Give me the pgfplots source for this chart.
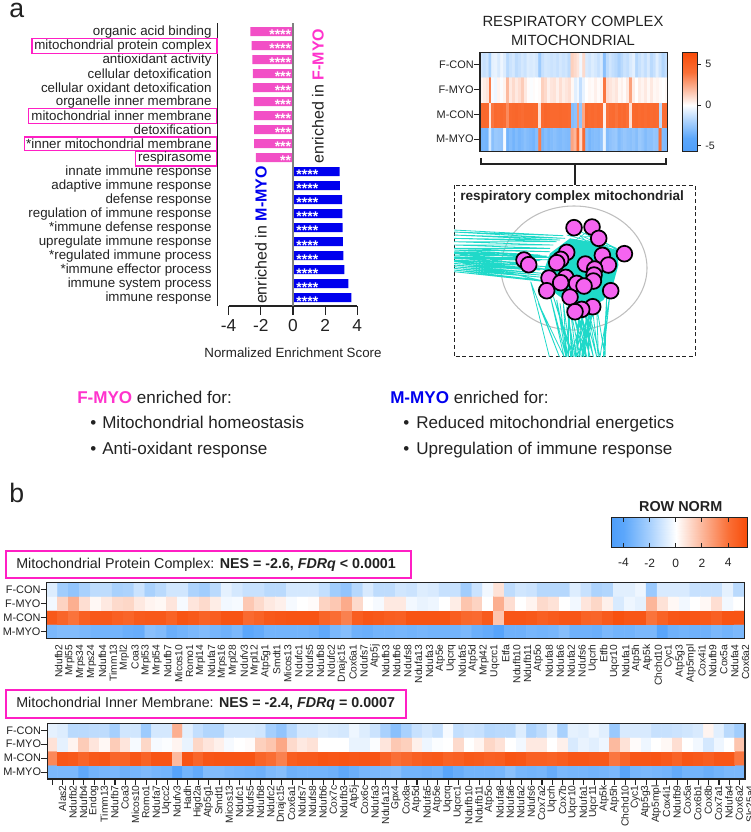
\documentclass[border=0pt]{standalone}
\usepackage{fontspec}
\setmainfont{Liberation Sans}
\usepackage{pgfplots}
\usepackage{pgfplotstable}
\pgfplotsset{compat=1.18}

\definecolor{boxpink}{HTML}{FF1FC4}
\definecolor{txtpink}{HTML}{FF33CC}
\definecolor{barpink}{HTML}{F24FC6}
\definecolor{barblue}{HTML}{0000EE}
\definecolor{edge}{HTML}{1FD9C9}
\definecolor{nodepink}{HTML}{F564F0}
\definecolor{ink}{HTML}{222222}

\newcommand{\fs}[1]{\fontsize{#1}{#1}\selectfont}

\pgfplotsset{
  colormap={rowb}{rgb255(0cm)=(78,158,250); rgb255(0.9cm)=(92,167,251); rgb255(2.9cm)=(169,209,253); rgb255(4.9cm)=(255,255,255); rgb255(6.9cm)=(252,182,154); rgb255(8.9cm)=(250,111,54); rgb255(10.4cm)=(247,74,7)},
  colormap={rowa}{rgb255(0cm)=(78,158,250); rgb255(1.7cm)=(92,167,251); rgb255(3.7cm)=(169,209,253); rgb255(5.7cm)=(255,255,255); rgb255(7.7cm)=(252,182,154); rgb255(9.7cm)=(250,111,54); rgb255(12.17cm)=(247,74,7)},
  heat/.style={
    scale only axis, anchor=north west,
    ymin=-0.5, ymax=3.5,
    axis line style={line width=0.95pt, draw=ink},
    axis on top,
    ytick={0,1,2,3}, yticklabels={M-MYO,M-CON,F-MYO,F-CON},
    ytick pos=left, xtick pos=bottom, tick align=outside,
    tick style={draw=ink, line width=0.8pt},
    major tick length=4.5pt,
    yticklabel style={font=\fs{8.2}, text=ink, inner sep=0pt},
    ylabel style={font=\fs{8}},
    tick label style={text=ink},
  },
  gene/.style={
    xticklabel style={rotate=90, anchor=east, font=\fs{7.7}, text=ink, inner sep=0pt},
  },
}

% heat map values, one list per row, bottom row first
\pgfplotstableread[row sep=\\]{v\\
-3.4\\-3.3\\-3.4\\-1.0\\-2.8\\-2.4\\-2.5\\-2.6\\-0.2\\-3.4\\-3.0\\-3.4\\-3.0\\-3.3\\-3.1\\-2.8\\-3.0\\-3.2\\-3.4\\-2.9\\3.6\\-3.3\\-2.9\\-3.2\\-3.0\\-2.8\\-3.0\\-3.1\\-2.9\\-3.0\\-3.1\\2.5\\2.0\\4.2\\1.0\\4.2\\-2.8\\-3.3\\-3.0\\-2.9\\-3.0\\-2.7\\-0.5\\-3.0\\-2.7\\-2.5\\-2.4\\-3.0\\-2.7\\-2.5\\-2.7\\-2.8\\-2.6\\-2.9\\-2.4\\-2.6\\-3.0\\-2.7\\-2.8\\-2.5\\-2.6\\4.0\\-3.0\\-3.1\\
4.4\\4.5\\4.4\\0.7\\3.8\\4.4\\4.3\\4.4\\4.2\\3.2\\4.4\\4.5\\4.6\\4.4\\4.2\\4.5\\4.5\\4.6\\4.5\\4.5\\0.9\\4.3\\4.6\\4.5\\4.4\\4.4\\4.4\\4.5\\4.4\\4.4\\4.3\\-2.9\\-2.7\\2.8\\-2.6\\2.4\\4.5\\4.3\\4.4\\4.2\\4.4\\4.2\\0.4\\3.9\\4.2\\4.3\\3.9\\4.4\\4.2\\4.4\\4.0\\0.9\\4.4\\4.5\\4.3\\4.4\\4.2\\4.4\\4.3\\4.4\\4.3\\-1.6\\4.1\\4.2\\
0.3\\0.5\\0.7\\3.6\\-0.2\\-0.4\\0.3\\-0.1\\0.3\\1.9\\0.6\\1.0\\0.6\\0.9\\1.4\\0.6\\0.1\\-0.1\\0.1\\0.0\\0.1\\1.3\\1.0\\0.4\\0.7\\0.8\\0.4\\0.9\\0.5\\0.7\\0.9\\0.2\\-0.7\\-0.3\\-1.4\\-0.5\\0.0\\0.2\\0.1\\0.4\\0.1\\0.3\\3.8\\0.9\\0.7\\0.5\\0.7\\0.2\\0.4\\0.1\\0.6\\2.6\\0.5\\0.0\\0.5\\0.3\\0.6\\0.2\\0.6\\0.2\\0.3\\0.1\\0.0\\0.2\\
-1.0\\-1.3\\-1.1\\-2.0\\-0.6\\-0.5\\-0.9\\-0.4\\-0.8\\-1.6\\-1.2\\-1.0\\-1.5\\-1.3\\-1.0\\-1.2\\-0.8\\-0.9\\-0.8\\-1.0\\-2.3\\-1.3\\-1.0\\-1.1\\-1.2\\-1.1\\-1.3\\-1.0\\-1.2\\-1.1\\-1.5\\1.3\\1.0\\0.7\\-0.3\\1.0\\-0.9\\-1.1\\-0.8\\-1.0\\-1.3\\-0.9\\-2.8\\-1.5\\-1.1\\-1.4\\-1.6\\-2.0\\-1.6\\-1.2\\-1.4\\-0.9\\-0.6\\-1.7\\-1.3\\-1.0\\-1.4\\-0.9\\-1.6\\-1.3\\-0.7\\-1.2\\-1.8\\-1.4\\
}\resptab

\pgfplotstableread[row sep=\\]{v\\
-3.2\\-3.0\\-3.0\\-3.2\\-3.4\\-3.4\\-3.4\\-3.6\\-3.7\\-2.8\\-3.0\\-3.6\\-3.4\\-3.2\\-3.0\\-3.3\\-3.5\\-3.2\\-4.0\\-3.8\\-3.4\\-3.4\\-3.4\\-3.4\\-3.5\\-3.9\\-3.2\\-2.9\\-3.5\\-3.6\\-3.4\\-3.4\\-3.3\\-3.4\\-3.3\\-3.4\\-3.4\\-3.4\\-3.2\\-3.6\\-3.8\\-4.3\\-3.5\\-3.5\\-3.3\\-3.4\\-3.3\\-2.9\\-3.5\\-3.5\\-3.6\\-3.2\\-3.4\\-3.4\\-3.2\\-3.2\\-4.2\\-3.5\\-3.4\\-3.5\\-3.5\\-3.2\\-3.4\\-3.2\\
4.9\\4.4\\3.9\\4.6\\4.9\\4.9\\4.6\\4.4\\4.8\\4.9\\4.9\\4.5\\5.1\\4.9\\4.5\\4.7\\5.1\\5.1\\4.2\\4.5\\4.9\\5.0\\5.1\\5.1\\5.1\\4.4\\4.1\\3.5\\4.7\\5.0\\4.9\\4.7\\4.6\\5.1\\5.1\\5.1\\5.1\\4.7\\4.3\\4.2\\4.8\\1.6\\5.0\\5.0\\4.9\\4.6\\4.8\\5.0\\5.0\\4.5\\4.4\\4.8\\5.2\\5.0\\5.0\\3.9\\4.5\\5.0\\5.1\\5.0\\4.9\\4.6\\5.1\\5.1\\
-0.3\\1.2\\2.2\\0.9\\0.2\\0.6\\1.0\\1.1\\0.6\\0.3\\0.2\\0.7\\-0.2\\0.7\\1.0\\0.5\\-0.3\\-0.2\\1.5\\1.0\\0.6\\0.4\\-0.2\\0.0\\0.1\\1.2\\1.5\\2.3\\1.0\\0.0\\-0.2\\0.6\\0.6\\-0.3\\-0.5\\-0.4\\0.0\\0.5\\1.6\\1.2\\0.0\\2.2\\0.9\\0.0\\0.3\\1.0\\0.8\\0.0\\-0.3\\0.7\\1.1\\0.4\\-0.9\\-0.4\\-0.6\\2.0\\0.8\\0.2\\-0.3\\0.0\\0.2\\0.9\\-0.3\\0.0\\
-0.8\\-2.2\\-2.6\\-2.0\\-1.5\\-1.5\\-2.0\\-1.9\\-1.2\\-2.0\\-1.6\\-1.1\\-1.1\\-1.9\\-2.2\\-1.6\\-0.6\\-1.0\\-1.3\\-1.3\\-1.6\\-1.6\\-1.0\\-1.0\\-1.0\\-1.4\\-2.2\\-2.6\\-1.7\\-0.9\\-1.5\\-1.5\\-1.1\\-1.2\\-0.8\\-0.9\\-1.3\\-1.3\\-2.2\\-1.2\\-0.3\\0.8\\-1.5\\-1.1\\-1.2\\-1.7\\-1.7\\-1.7\\-0.8\\-1.3\\-1.9\\-1.8\\-0.7\\-0.7\\-0.4\\-2.4\\-0.9\\-0.9\\-0.9\\-1.3\\-1.3\\-1.3\\-0.6\\-1.6\\
}\prottab

\pgfplotstableread[row sep=\\]{v\\
-3.2\\-3.2\\-3.2\\-3.9\\-3.4\\-3.3\\-3.2\\-3.5\\-3.3\\-3.1\\-3.3\\-3.4\\-4.4\\-3.4\\-3.8\\-3.0\\-3.0\\-3.2\\-3.3\\-3.4\\-3.5\\-3.1\\-2.9\\-3.5\\-3.4\\-3.4\\-3.4\\-3.5\\-3.9\\-3.6\\-3.3\\-3.2\\-3.0\\-2.9\\-3.4\\-3.4\\-3.5\\-3.4\\-4.2\\-3.7\\-3.4\\-3.4\\-3.4\\-3.3\\-2.8\\-3.3\\-3.4\\-3.3\\-3.7\\-3.2\\-3.3\\-3.3\\-3.4\\-3.3\\-3.2\\-4.2\\-3.3\\-3.2\\-3.3\\-3.4\\-3.8\\-3.4\\-3.4\\-3.6\\-3.4\\-3.2\\-3.2\\
3.3\\5.0\\4.9\\4.4\\4.9\\5.0\\4.4\\4.5\\5.0\\4.5\\5.1\\5.1\\1.9\\5.1\\4.4\\5.0\\5.1\\5.1\\5.1\\5.1\\4.4\\4.1\\3.5\\4.7\\4.9\\4.9\\5.1\\5.0\\5.1\\5.0\\5.1\\5.1\\4.6\\4.0\\4.3\\4.6\\4.8\\4.9\\4.5\\4.6\\4.9\\4.8\\4.6\\4.7\\5.1\\5.0\\4.6\\4.6\\4.5\\4.7\\5.0\\5.0\\4.9\\4.9\\3.8\\4.4\\5.0\\5.0\\5.1\\4.9\\4.5\\5.0\\4.9\\4.7\\5.0\\5.0\\3.8\\
0.8\\-0.6\\0.3\\1.4\\0.7\\0.2\\1.4\\0.7\\-0.2\\1.1\\-0.2\\-0.1\\0.3\\-0.5\\1.1\\0.7\\0.4\\-0.2\\0.0\\0.1\\1.3\\1.6\\2.4\\1.0\\0.6\\0.8\\0.0\\0.0\\0.0\\-0.5\\-0.5\\-0.1\\0.7\\1.5\\1.3\\0.4\\-0.4\\-0.1\\0.0\\1.0\\0.0\\0.3\\1.1\\0.8\\0.0\\-0.3\\0.6\\0.6\\0.0\\0.4\\-0.9\\-0.5\\-0.7\\-0.4\\1.9\\0.8\\0.1\\-0.4\\0.0\\0.2\\0.9\\0.0\\-0.3\\-1.0\\-0.4\\0.0\\1.6\\
-0.6\\-0.8\\-1.6\\-1.6\\-1.5\\-1.5\\-2.1\\-1.1\\-1.1\\-2.3\\-1.0\\-1.0\\2.2\\-0.7\\-1.4\\-1.8\\-1.8\\-1.0\\-1.0\\-1.0\\-1.1\\-2.1\\-2.6\\-1.7\\-1.0\\-1.0\\-0.8\\-0.9\\-1.0\\-0.4\\-0.8\\-1.2\\-2.0\\-2.8\\-2.0\\-1.3\\-1.0\\-1.3\\-0.2\\-1.4\\-1.2\\-1.3\\-1.7\\-1.6\\-1.6\\-0.8\\-1.9\\-1.5\\-0.7\\-2.0\\-0.6\\-0.7\\-0.4\\-0.7\\-2.4\\-0.9\\-0.9\\-0.9\\-1.3\\-1.3\\-1.2\\-1.1\\-0.9\\0.3\\-0.7\\-1.6\\-2.2\\
}\innertab

\begin{document}
\begin{tikzpicture}[x=0.75pt,y=-0.75pt,every node/.append style={text=ink}]
\path[use as bounding box] (0,0) rectangle (750,832);

\node[anchor=base west,inner sep=0pt,font=\fs{20}] at (9,17) {a};
\node[anchor=base west,inner sep=0pt,font=\fs{20}] at (9,502) {b};

\draw[draw=boxpink, line width=1.1pt] (28.7,108.3) rectangle (216.7,123.3);
\draw[draw=boxpink, line width=1.1pt] (24.3,137) rectangle (216.7,150.7);
\draw[draw=boxpink, line width=1.1pt] (135.3,151) rectangle (216.7,166);

% enrichment bars
\begin{axis}[
  at={(163.28pt,-229.5pt)}, anchor=south west, scale only axis,
  width=104.7pt, height=212.5pt,
  xmin=-4.68, xmax=4, ymin=0.41, ymax=20.64,
  clip=false,
  axis x line*=bottom, axis y line*=left,
  x axis line style={draw=none},
  y axis line style={draw=ink, line width=0.75pt},
  xtick={-4,-2,0,2,4}, xticklabels={-4,-2,0,2,4},
  ytick={1,...,20},
  yticklabels={immune response,immune system process,*immune effector process,*regulated immune process,upregulate immune response,*immune defense response,regulation of immune response,defense response,adaptive immune response,innate immune response,respirasome,*inner mitochondrial membrane,detoxification,mitochondrial inner membrane,organelle inner membrane,cellular oxidant detoxification,cellular detoxification,antioxidant activity,mitochondrial protein complex,organic acid binding},
  ytick style={draw=none}, major tick length=6.75pt,
  xtick style={draw=ink, line width=0.9pt},
  tick align=outside,
  xticklabel style={font=\fs{13}, text=ink, inner sep=0pt, yshift=-3pt},
  yticklabel style={font=\fs{10}, text=ink, inner sep=0pt},
  y tick label style={xshift=2.3pt},
]
\addplot[xbar, bar width=6.75pt, bar shift=0pt, fill=barpink, draw=none] coordinates {
  (-2.30,11) (-2.41,12) (-2.41,13) (-2.43,14) (-2.43,15) (-2.49,16) (-2.49,17) (-2.53,18) (-2.57,19) (-2.65,20)};
\addplot[xbar, bar width=6.75pt, bar shift=0pt, fill=barblue, draw=none] coordinates {
  (3.63,1) (3.44,2) (3.19,3) (3.13,4) (3.11,5) (3.09,6) (3.07,7) (3.05,8) (2.92,9) (2.90,10)};
\addplot[only marks, mark=none, point meta=explicit symbolic, nodes near coords,
  nodes near coords align={anchor=east},
  every node near coord/.append style={font=\fs{10.5}\bfseries, text=white, inner sep=0pt, yshift=-2.6pt}]
  coordinates {(-0.1,11)[**] (-0.1,12)[***] (-0.1,13)[***] (-0.1,14)[***] (-0.1,15)[***] (-0.1,16)[***] (-0.1,17)[***] (-0.1,18)[****] (-0.1,19)[****] (-0.1,20)[****]};
\addplot[only marks, mark=none, point meta=explicit symbolic, nodes near coords,
  nodes near coords align={anchor=west},
  every node near coord/.append style={font=\fs{10.5}\bfseries, text=white, inner sep=0pt, yshift=-2.6pt}]
  coordinates {(0.2,1)[****] (0.2,2)[****] (0.2,3)[****] (0.2,4)[****] (0.2,5)[****] (0.2,6)[****] (0.2,7)[****] (0.2,8)[****] (0.2,9)[****] (0.2,10)[****]};
\draw[draw=ink, line width=0.9pt] (axis cs:-4,0.41) -- (axis cs:4,0.41);
\draw[draw=black!50, line width=0.9pt] (axis cs:0,0.41) -- (axis cs:0,20.64);
\end{axis}

\node[rotate=90,inner sep=0pt,font=\fs{12}] at (318,96) {enriched in \textcolor{txtpink}{\bfseries F-MYO}};
\node[rotate=90,inner sep=0pt,font=\fs{12}] at (261,235) {enriched in \textcolor{barblue}{\bfseries M-MYO}};
\node[inner sep=0pt,font=\fs{10}] at (293,353) {Normalized Enrichment Score};

% respiratory complex heat map
\node[inner sep=0pt,font=\fs{11.1}] at (573,21) {RESPIRATORY COMPLEX};
\node[inner sep=0pt,font=\fs{11.1}] at (573,40) {MITOCHONDRIAL};
\begin{axis}[heat, at={(360pt,-39.23pt)}, width=140.8pt, height=74.5pt,
  xmin=-0.5, xmax=63.5, xtick=\empty, colormap name=rowa,
  point meta min=-5.7, point meta max=6.47]
\addplot[matrix plot*, mesh/cols=64, point meta=\thisrow{v}]
  table[x index=0, y index=0, x expr={\coordindex-64*int((\coordindex+0.5)/64)}, y expr={int((\coordindex+0.5)/64)}] {\resptab};
\end{axis}
\begin{axis}[scale only axis, anchor=north west, at={(512.03pt,-39.23pt)}, width=11.25pt, height=74.5pt,
  xmin=0, xmax=1, ymin=-5.7, ymax=6.47, xtick=\empty, axis on top,
  ytick={-5,0,5}, yticklabels={-5,0,5}, ytick pos=right, yticklabel pos=right, tick align=outside,
  axis line style={line width=0.8pt, draw=ink}, major tick length=2.5pt,
  tick style={draw=ink, line width=0.8pt},
  yticklabel style={font=\fs{8}, text=ink, inner sep=0pt, xshift=3pt},
  colormap name=rowa, point meta min=-5.7, point meta max=6.47]
\addplot[surf, shader=interp, mesh/cols=2, point meta=y] coordinates {(0,-5.7) (1,-5.7) (0,6.47) (1,6.47)};
\end{axis}
\draw[ink, line width=0.9pt] (481,158) -- (481,164) -- (666,164) -- (666,158);
\draw[ink, line width=0.9pt] (575,164) -- (575,185);

% network
\draw[black!25, line width=0.8pt] (574,268) ellipse [x radius=73, y radius=62];
\begin{axis}[scale only axis, anchor=north west, at={(340.5pt,-138.75pt)}, width=180.8pt, height=128.8pt,
  xmin=42, xmax=765, ymin=45, ymax=560, y dir=reverse,
  xtick=\empty, ytick=\empty,
  axis line style={densely dashed, line width=0.75pt, draw=ink}]
\addplot[fill=edge, draw=none] coordinates {(330,250) (390,205) (450,215) (530,240) (535,285) (520,340) (490,390) (440,420) (400,410) (320,350) (305,320)};
\addplot[edge, line width=0.6pt] coordinates {
  (42,180)(370,197)(42,186)(375,205)(42,195)(360,210)(42,205)(350,215)(42,215)(340,225)(42,225)(330,235)
  (42,235)(330,245)(42,240)(300,255)(42,245)(300,262)(42,250)(320,258)(42,255)(290,268)(42,260)(300,272)
  (42,265)(280,280)(42,270)(320,290)(42,275)(300,300)(42,280)(280,300)(42,285)(310,310)(42,290)(300,315)
  (42,295)(310,322)(42,300)(300,330)(42,305)(320,335)(42,272)(330,300)(42,248)(340,262)(42,262)(350,270)};
\addplot[edge, line width=0.6pt] coordinates {
  (328,560)(272,335)(358,560)(295,400)(372,560)(330,375)(378,560)(350,390)(385,560)(385,400)(395,560)(340,380)
  (400,560)(380,410)(405,560)(420,400)(410,560)(470,400)(415,560)(460,420)(425,560)(440,430)(430,560)(400,430)
  (440,560)(410,420)(450,560)(420,420)(460,560)(430,410)(470,560)(440,400)(480,560)(510,370)(490,560)(500,380)
  (495,560)(470,410)(475,560)(455,400)(445,560)(445,420)(435,560)(425,410)(420,560)(390,410)(408,560)(435,410)(392,560)(370,400)(380,560)(360,400)};
\addplot[edge, line width=0.5pt] coordinates {(380,195)(530,235)(400,175)(520,300)(455,175)(340,260)(475,205)(550,250)(380,245)(480,200)(430,200)(550,255)(500,220)(510,290)};
\addplot[only marks, mark=*, mark size=5.9pt, mark options={fill=nodepink, draw=black, line width=1.3pt}] coordinates {
  (402,173)(456,171)(476,205)(553,251)(487,256)(505,285)(380,247)(252,270)(266,284)(362,268)(350,278)(436,282)
  (464,297)(462,315)(460,333)(327,324)(377,322)(362,338)(410,340)(432,348)(320,362)(390,381)(512,362)(458,410)(425,418)(405,425)};
\end{axis}
\node[anchor=west,inner sep=0pt,font=\fs{10.2}\bfseries] at (460,197) {respiratory complex mitochondrial};

% summary text
\node[anchor=base west,inner sep=0pt,font=\fs{12.8}] at (77,403) {\textcolor{txtpink}{\bfseries F-MYO} enriched for:};
\node[anchor=base west,inner sep=0pt,font=\fs{12.8}] at (390,403) {\textcolor{barblue}{\bfseries M-MYO} enriched for:};
\node[anchor=base west,inner sep=0pt,font=\fs{12.8}] at (90,428) {\textbullet};
\node[anchor=base west,inner sep=0pt,font=\fs{12.8}] at (90,454) {\textbullet};
\node[anchor=base west,inner sep=0pt,font=\fs{12.8}] at (403,428) {\textbullet};
\node[anchor=base west,inner sep=0pt,font=\fs{12.8}] at (403,454) {\textbullet};
\node[anchor=base west,inner sep=0pt,font=\fs{12.8}] at (102,428) {Mitochondrial homeostasis};
\node[anchor=base west,inner sep=0pt,font=\fs{12.8}] at (102,454) {Anti-oxidant response};
\node[anchor=base west,inner sep=0pt,font=\fs{12.8}] at (416,428) {Reduced mitochondrial energetics};
\node[anchor=base west,inner sep=0pt,font=\fs{12.8}] at (416,454) {Upregulation of immune response};

% row norm colour bar
\node[inner sep=0pt,font=\fs{10.8}\bfseries] at (680.7,507) {ROW NORM};
\begin{axis}[scale only axis, anchor=north west, at={(458.78pt,-387.98pt)}, width=102pt, height=22.8pt,
  xmin=-4.9, xmax=5.5, ymin=0, ymax=1, ytick=\empty, axis on top,
  xtick={-4,-2,0,2,4}, xticklabels={-4,-2,0,2,4}, xtick pos=both, xticklabel pos=bottom, tick align=inside,
  axis line style={line width=0.8pt, draw=ink}, major tick length=3.5pt,
  tick style={draw=ink, line width=0.8pt},
  xticklabel style={font=\fs{9}, text=ink, inner sep=0pt, yshift=-8pt},
  colormap name=rowb, point meta min=-4.9, point meta max=5.5]
\addplot[surf, shader=interp, mesh/cols=2, point meta=x] coordinates {(-4.9,0) (5.5,0) (-4.9,1) (5.5,1)};
\end{axis}

% protein complex heat map
\draw[draw=boxpink, line width=1.25pt] (5.7,550.7) rectangle (411,578.3);
\node[anchor=west,inner sep=0pt,font=\fs{10.7}] at (16,565) {Mitochondrial Protein Complex: \textbf{NES = -2.6, \textit{FDRq} < 0.0001}};
\begin{axis}[heat, gene, at={(35.03pt,-436.73pt)}, width=523.2pt, height=42pt,
  xmin=-0.5, xmax=63.5, colormap name=rowb,
  point meta min=-4.9, point meta max=5.5,
  xtick={0,...,63},
  xtick style={draw=none}, x tick label style={yshift=-5pt},
  xticklabels={Ndufb2,Mrpl55,Mrps34,Mrps24,Ndufb4,Timm13,Mrpl2,Coa3,Mrpl53,Mrpl54,Ndufb7,Micos10,Romo1,Mrpl14,Ndufa7,Mrps16,Mrpl28,Ndufv3,Mrpl12,Atp5g1,Smdt1,Micos13,Ndufc1,Ndufs5,Ndufb8,Ndufc2,Dnajc15,Cox6a1,Ndufs7,Atp5j,Ndufb3,Ndufb6,Ndufs8,Ndufa13,Ndufa3,Atp5e,Uqcrq,Ndufa5,Atp5d,Mrpl42,Uqcrc1,Etfa,Ndufb10,Ndufb11,Atp5o,Ndufa8,Ndufa6,Ndufa2,Ndufs6,Uqcrh,Etfb,Uqcr10,Ndufa1,Atp5h,Atp5k,Chchd10,Cyc1,Atp5g3,Atp5mpl,Cox4i1,Ndufb9,Cox5a,Ndufa4,Cox6a2}]
\addplot[matrix plot*, mesh/cols=64, point meta=\thisrow{v}]
  table[x index=0, y index=0, x expr={\coordindex-64*int((\coordindex+0.5)/64)}, y expr={int((\coordindex+0.5)/64)}] {\prottab};
\end{axis}

% inner membrane heat map
\draw[draw=boxpink, line width=1.25pt] (5.7,690) rectangle (406,718.3);
\node[anchor=west,inner sep=0pt,font=\fs{10.7}] at (16,704) {Mitochondrial Inner Membrane: \textbf{NES = -2.4, \textit{FDRq} = 0.0007}};
\begin{axis}[heat, gene, at={(35.48pt,-542.48pt)}, width=523.3pt, height=41.8pt,
  xmin=-0.5, xmax=66.5, colormap name=rowb,
  point meta min=-4.9, point meta max=5.5,
  xtick={0,...,66},
  x tick label style={yshift=-7.5pt},
  xticklabels={Alas2,Ndufb2,Ndufb4,Endog,Timm13,Ndufb7,Coa3,Micos10,Romo1,Ndufa7,Uqcc2,Ndufv3,Hadh,Higd2a,Atp5g1,Smdt1,Micos13,Ndufc1,Ndufs5,Ndufb8,Ndufc2,Dnajc15,Cox6a1,Ndufs7,Ndufs8,Ndufb6,Cox7c,Ndufb3,Atp5j,Cox6c,Ndufa3,Ndufa13,Gpx4,Cox8a,Atp5d,Ndufa5,Atp5e,Uqcrq,Uqcrc1,Ndufb10,Ndufb11,Atp5o,Ndufa8,Ndufa6,Ndufa2,Ndufs6,Cox7a2,Uqcrh,Cox7b,Uqcr10,Ndufa1,Uqcr11,Atp5k,Atp5h,Chchd10,Cyc1,Atp5g3,Atp5mpl,Cox4i1,Ndufb9,Cox5a,Cox6b1,Cox8b,Cox7a1,Ndufa4,Cox6a2,Slc25a4}]
\addplot[matrix plot*, mesh/cols=67, point meta=\thisrow{v}]
  table[x index=0, y index=0, x expr={\coordindex-67*int((\coordindex+0.5)/67)}, y expr={int((\coordindex+0.5)/67)}] {\innertab};
\end{axis}

% top label box
\draw[draw=boxpink, line width=1.2pt] (31.7,38.3) -- (216.7,38.3) -- (216.7,53.3) -- (31.7,53.3) -- cycle;
\end{tikzpicture}
\end{document}
